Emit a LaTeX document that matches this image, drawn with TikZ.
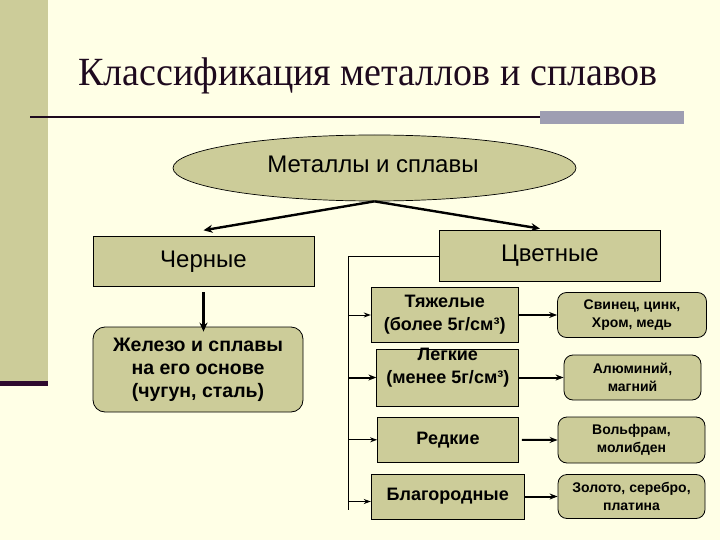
\documentclass[tikz,border=0pt]{standalone}
\usepackage{fontspec}
\setmainfont{Liberation Sans}
\newfontfamily\titlefont[FakeStretch=0.95]{Liberation Serif}
\usetikzlibrary{shapes.geometric,arrows.meta}
\definecolor{bgc}{HTML}{FFFFE6}
\definecolor{olv}{HTML}{CCCC99}
\definecolor{gbar}{HTML}{9E9EB2}
\definecolor{ttl}{HTML}{1E0A1E}
\definecolor{dpur}{HTML}{2E0A2E}
\begin{document}
\begin{tikzpicture}[x=1pt,y=-1pt,
  box/.style={draw=black,line width=0.8pt,fill=olv,align=center,inner sep=0pt,text=black},
  rbox/.style={box,rounded corners=9pt},
  bigtxt/.style={font=\fontsize{24}{28}\selectfont},
  midtxt/.style={font=\fontsize{18}{23}\selectfont\bfseries},
  smalltxt/.style={font=\fontsize{14}{18}\selectfont\bfseries},
  mainarr/.style={draw=black,line width=2.4pt,-{Stealth[length=9pt,width=8pt]}},
  brarr/.style={draw=black,line width=1pt,-{Stealth[length=7pt,width=5pt]}},
  rarr/.style={draw=black,line width=2pt,-{Stealth[length=8pt,width=6pt]}}
]
\path[use as bounding box, fill=bgc] (0,0) rectangle (720,540);
% decoration
\fill[olv] (0,0) rectangle (48,381);
\fill[dpur] (0,381) rectangle (48,386);
\draw[ttl, line width=2.5pt] (30,117) -- (540,117);
\fill[gbar] (540,111) rectangle (684,124);
% title
\node[font=\titlefont\fontsize{40}{44}\selectfont, text=ttl, anchor=base, inner sep=0pt] (title) at (368,86) {Классификация металлов и сплавов};
% ellipse
\node[ellipse, draw=black, line width=0.7pt, fill=olv, minimum width=403pt, minimum height=66pt, inner sep=0pt] (ell) at (374.5,168) {};
\node[bigtxt, inner sep=0pt] (ellt) at (373,164) {Металлы и сплавы};
% main boxes
\node[box, bigtxt, minimum width=221pt, minimum height=50pt] (ch) at (203.5,261.7) {Черные};
\node[box, bigtxt, minimum width=221pt, minimum height=51pt] (cv) at (550,256) {Цветные};
\node[rbox, rounded corners=12pt, font=\fontsize{19.5}{23}\selectfont\bfseries, minimum width=210pt, minimum height=85pt] (zh) at (198,369.5) {Железо и сплавы\\на его основе\\(чугун, сталь)};
% left column
\node[box, midtxt, minimum width=147pt, minimum height=55pt] (ty) at (444.7,315) {Тяжелые\\(более 5г/см³)};
\node[box, minimum width=142pt, minimum height=57pt] (lg) at (447.8,377.5) {};
\node[midtxt, align=center, inner sep=0pt] (lgt) at (447.8,367.5) {Легкие\\(менее 5г/см³)};
\node[box, midtxt, minimum width=141pt, minimum height=45pt] (rd) at (448,439.8) {Редкие};
\node[box, midtxt, minimum width=153pt, minimum height=45pt] (bl) at (447.7,496.5) {Благородные};
% right column
\node[rbox, smalltxt, minimum width=149pt, minimum height=45pt] (sv) at (632,315) {Свинец, цинк,\\Хром, медь};
\node[rbox, smalltxt, minimum width=137pt, minimum height=45pt] (al) at (632.5,377.5) {Алюминий,\\магний};
\node[rbox, smalltxt, minimum width=147pt, minimum height=46pt] (vf) at (631.5,440) {Вольфрам,\\молибден};
\node[rbox, smalltxt, minimum width=147pt, minimum height=44pt] (zl) at (631.5,496.5) {Золото, серебро,\\платина};
% connectors
\draw[mainarr] (ell.south) -- ([yshift=6pt]ch.north);
\draw[mainarr] (ell.south) -- ([xshift=-10pt,yshift=1.5pt]cv.north);
\draw[mainarr] ([yshift=-5pt]ch.south) -- ([yshift=-5pt]ch.south |- zh.north);
\coordinate (trb) at (348,510);
\draw[line width=0.8pt] (cv.west) -| (trb);
\draw[brarr] (ty.west -| trb) -- (ty.west);
\draw[rarr] (lg.west -| trb) -- (lg.west);
\draw[brarr] (rd.west -| trb) -- (rd.west);
\draw[brarr] ([yshift=-5pt]bl.west -| trb) -- ([yshift=-5pt]bl.west);
\draw[rarr] (ty.east) -- (sv.west);
\draw[rarr] (lg.east) -- (al.west);
\draw[rarr] ([xshift=3pt]rd.east) -- (vf.west);
\draw[rarr] (bl.east) -- (zl.west);
\end{tikzpicture}
\end{document}
